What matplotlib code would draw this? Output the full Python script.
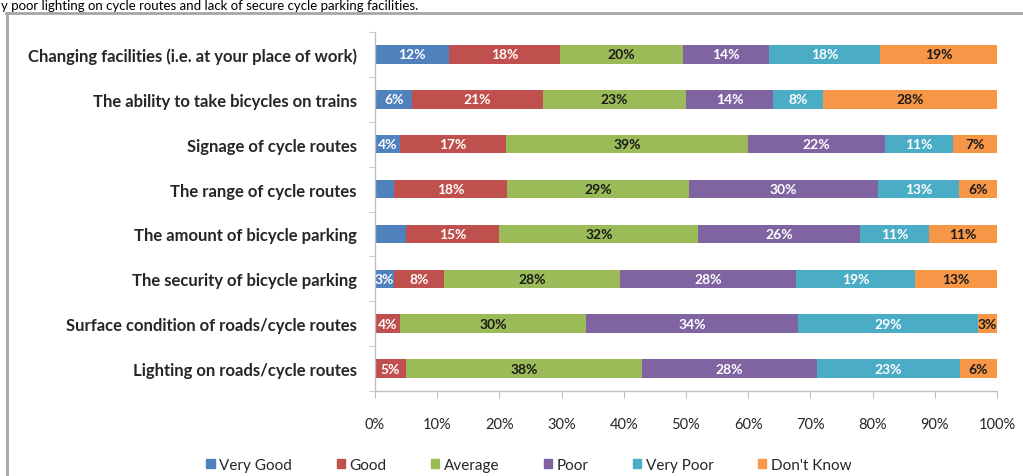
import matplotlib
matplotlib.use("Agg")
import matplotlib.pyplot as plt
from matplotlib.lines import Line2D
import numpy as np

categories = [
    "Changing facilities (i.e. at your place of work)",
    "The ability to take bicycles on trains",
    "Signage of cycle routes",
    "The range of cycle routes",
    "The amount of bicycle parking",
    "The security of bicycle parking",
    "Surface condition of roads/cycle routes",
    "Lighting on roads/cycle routes",
]
series_names = ["Very Good", "Good", "Average", "Poor", "Very Poor", "Don't Know"]

very_good = [12, 6, 4, 3, 5, 3, 0, 0]
good = [18, 21, 17, 18, 15, 8, 4, 5]
average = [20, 23, 39, 29, 32, 28, 30, 38]
poor = [14, 14, 22, 30, 26, 28, 34, 28]
very_poor = [18, 8, 11, 13, 11, 19, 29, 23]
dont_know = [19, 28, 7, 6, 11, 13, 3, 6]

# segments that carry no printed value
hidden_labels = {(0, 3), (0, 4)}

colors = ["#4F81BD", "#C0504D", "#9BBB59", "#8064A2", "#4BACC6", "#F79646"]
label_colors = ["white", "white", "#1a1a1a", "white", "white", "#1a1a1a"]
xticks = [0, 10, 20, 30, 40, 50, 60, 70, 80, 90, 100]
xtick_labels = [f"{t}%" for t in xticks]

caption = "y poor lighting on cycle routes and lack of secure cycle parking facilities."

plt.rcParams["font.family"] = ["Lato", "DejaVu Sans"]

W, H = 1023, 477
fig = plt.figure(figsize=(W / 100, H / 100), dpi=100)
fig.patch.set_facecolor("white")

# axes placed in pixel terms
left, right, top, bottom = 375, 997, 33, 392
ax = fig.add_axes([left / W, 1 - bottom / H, (right - left) / W, (bottom - top) / H])

data = np.array([very_good, good, average, poor, very_poor, dont_know], dtype=float)
totals = data.sum(axis=0)
shares = data / totals * 100
y = np.arange(len(categories))
cum = np.zeros(len(categories))
for si in range(len(series_names)):
    ax.barh(y, shares[si], left=cum, height=0.41, color=colors[si],
            label=series_names[si], edgecolor="none")
    for ci in range(len(categories)):
        v = data[si, ci]
        if v <= 0 or (si, ci) in hidden_labels:
            continue
        ax.text(cum[ci] + shares[si, ci] / 2, y[ci], f"{int(v)}%",
                ha="center", va="center", fontsize=10, fontweight="bold",
                color=label_colors[si])
    cum += shares[si]

ax.set_xlim(0, 100)
ax.set_ylim(len(categories) - 0.5, -0.5)
ax.set_xticks(xticks)
ax.set_xticklabels(xtick_labels, fontsize=10.5, color="#262626")
ax.set_yticks(y)
ax.set_yticklabels(categories, fontsize=12, fontweight="bold", color="#262626")
ax.set_yticks(np.arange(-0.5, len(categories), 1), minor=True)
ax.tick_params(axis="y", which="major", length=0, pad=13)
ax.tick_params(axis="y", which="minor", length=4, color="#bfbfbf", direction="out")
ax.tick_params(axis="x", length=5, color="#bfbfbf", direction="out", pad=14)
for s in ["top", "right"]:
    ax.spines[s].set_visible(False)
for s in ["left", "bottom"]:
    ax.spines[s].set_color("#bfbfbf")
    ax.spines[s].set_linewidth(1)

handles = [plt.Rectangle((0, 0), 1, 1, color=c) for c in colors]
fig.legend(handles, series_names, loc="center", bbox_to_anchor=(529 / W, 1 - 466 / H),
           ncol=6, frameon=False, fontsize=11, handlelength=0.55, handleheight=0.55,
           handletextpad=0.3, columnspacing=2.9, labelcolor="#262626")

# surrounding chart frame
fig.add_artist(Line2D([6 / W, 1.0], [1 - 14 / H, 1 - 14 / H], transform=fig.transFigure,
                      color="#a6a6a6", lw=2))
fig.add_artist(Line2D([7 / W, 7 / W], [0, 1 - 14 / H], transform=fig.transFigure,
                      color="#a6a6a6", lw=2))

# document text line above the chart
fig.text(1 / W, 1 - 0.5 / H, caption, fontsize=9.5, color="black", ha="left", va="top")

fig.savefig("out.png", dpi=100)
